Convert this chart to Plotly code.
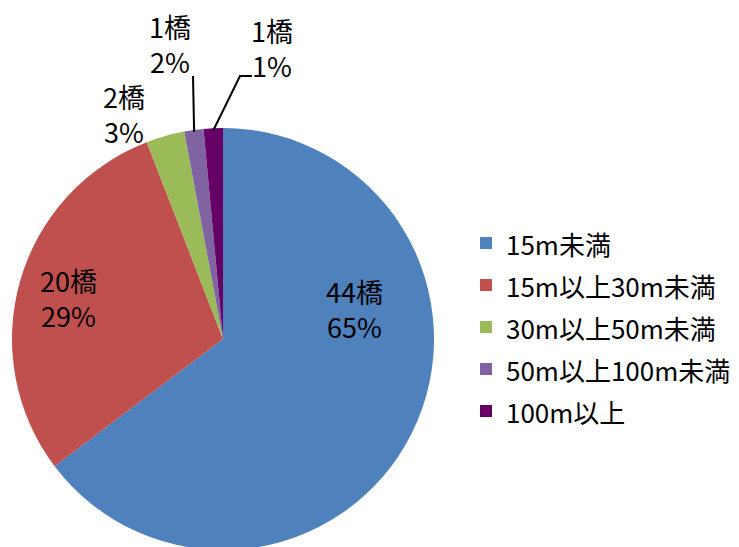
import math
import plotly.graph_objects as go

# ---- data ----
categories = ["15m未満", "15m以上30m未満", "30m以上50m未満", "50m以上100m未満", "100m以上"]
counts = [44, 20, 2, 1, 1]
pct_labels = [65, 29, 3, 2, 1]
colors = ["#4F81BD", "#C0504D", "#9BBB59", "#8064A2", "#660066"]

OFF = 8  # page body margin
W, H = 739 - OFF, 547
FONT = "Noto Sans CJK JP"

# pie geometry (figure pixels)
R = 211
cx, cy = 223 - OFF, 339 - OFF
dom = dict(x=[0, (2 * cx) / W], y=[max(0, 1 - (cy + R) / H), 1 - (cy - R) / H])
total = sum(counts)


def px2paper(x, y):
    # x, y in screenshot pixels
    return (x - OFF) / W, 1 - (y - OFF) / H


def edge_point(i, r):
    start = sum(counts[:i])
    mid = (start + counts[i] / 2) / total * 2 * math.pi
    return cx + OFF + r * math.sin(mid), cy + OFF - r * math.cos(mid)


fig = go.Figure()
fig.add_trace(go.Pie(
    labels=[f'<span style="font-size:26px">{c}</span>' for c in categories],
    values=counts,
    sort=False,
    direction="clockwise",
    rotation=0,
    marker=dict(colors=colors, line=dict(width=0)),
    textinfo="none",
    hoverinfo="label+value+percent",
    domain=dom,
    showlegend=True,
))

# label block centres and leader tails (screenshot pixels)
label_pos = [(354, 309), (68, 298), (124, 114), (170, 44), (272, 48)]
leader_tails = [None, None, None, [(193, 76)], [(240, 76), (252, 76)]]

annotations = []
shapes = []
for i in range(len(categories)):
    lx, ly = px2paper(*label_pos[i])
    annotations.append(dict(
        x=lx, y=ly, xref="paper", yref="paper",
        text=f"{counts[i]}橋<br>{pct_labels[i]}%",
        showarrow=False, xanchor="center", yanchor="middle",
        font=dict(family=FONT, size=27, color="#000000"),
    ))
    if leader_tails[i]:
        pts = [edge_point(i, R - 2)] + leader_tails[i]
        pp = [px2paper(*p) for p in pts]
        path = "M " + " L ".join(f"{p[0]},{p[1]}" for p in pp)
        shapes.append(dict(type="path", xref="paper", yref="paper", path=path,
                           line=dict(color="#000000", width=2)))

fig.update_layout(
    width=W, height=H,
    margin=dict(l=0, r=0, t=0, b=0, autoexpand=False),
    paper_bgcolor="white", plot_bgcolor="white",
    font=dict(family=FONT, color="#000000"),
    legend=dict(
        x=(466 - OFF) / W, y=1 - (217 - OFF) / H, xanchor="left", yanchor="top",
        font=dict(family=FONT, size=30, color="#000000"),
        bgcolor="rgba(0,0,0,0)",
    ),
    annotations=annotations,
    shapes=shapes,
)

fig.write_html("out.html")
